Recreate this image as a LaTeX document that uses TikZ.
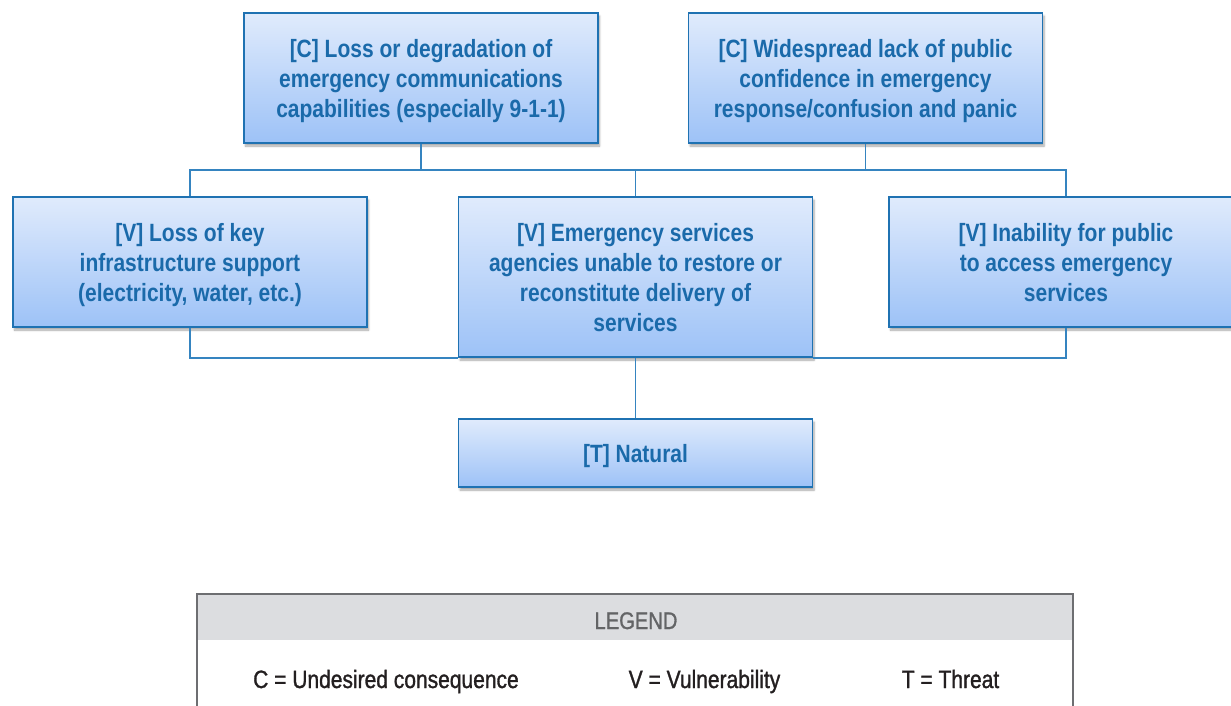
\documentclass[tikz,border=0pt]{standalone}
\usepackage{fontspec}
\setmainfont[FakeStretch=0.84]{Liberation Sans}
\newfontfamily\legfont[FakeStretch=0.84,RawFeature={embolden=1.2}]{Liberation Sans}
\usetikzlibrary{shadows.blur}
\definecolor{boxborder}{HTML}{1F72B2}
\definecolor{boxtop}{HTML}{E0EBFC}
\definecolor{boxbot}{HTML}{9DC2F7}
\definecolor{boxtext}{HTML}{1A6AAA}
\definecolor{wire}{HTML}{3584C0}
\definecolor{legborder}{HTML}{6D6E71}
\definecolor{legband}{HTML}{DCDDE0}
\definecolor{legtitle}{HTML}{636466}
\definecolor{legtext}{HTML}{231F20}
\tikzset{
  factor/.style={draw=boxborder, line width=1.6pt, top color=boxtop, bottom color=boxbot,
    text=boxtext, align=center, inner sep=0pt, minimum width=354pt, text depth=0pt,
    font=\bfseries\fontsize{25}{30}\selectfont,
    blur shadow={shadow xshift=1.5pt, shadow yshift=-3pt, shadow blur steps=6, shadow opacity=35}},
  wireline/.style={draw=wire, line width=1.4pt},
  legitem/.style={anchor=base, text=legtext, inner sep=0pt, font=\legfont\fontsize{25}{30}\selectfont},
  legtitlestyle/.style={anchor=base, text=legtitle, inner sep=0pt, font=\legfont\fontsize{24}{28}\selectfont}
}
\begin{document}
\begin{tikzpicture}[x=1pt,y=-1pt]
\useasboundingbox (0,0) rectangle (1231,706);
% boxes
\node[factor, minimum height=130pt] (c1) at (421,78) {[C] Loss or degradation of\\emergency communications\\capabilities (especially 9-1-1)};
\node[factor, minimum height=130pt] (c2) at (865.5,78) {[C] Widespread lack of public\\confidence in emergency\\response/confusion and panic};
\node[factor, minimum height=130pt] (v1) at (190,262) {[V] Loss of key\\infrastructure support\\(electricity, water, etc.)};
\node[factor, minimum height=160pt] (v2) at (635.5,277) {[V] Emergency services\\agencies unable to restore or\\reconstitute delivery of\\services};
\node[factor, minimum height=130pt] (v3) at (1066,262) {[V] Inability for public\\to access emergency\\services};
\node[factor, minimum height=68pt] (t) at (635.5,453) {[T] Natural};
% connectors
\coordinate (busU) at (636,170);
\draw[wireline] (v1.north) -- (v1.north |- busU) -- (v3.north |- busU) -- (v3.north);
\draw[wireline] (c1.south) -- (c1.south |- busU);
\draw[wireline] (c2.south) -- (c2.south |- busU);
\draw[wireline] (v2.north) -- (v2.north |- busU);
\draw[wireline] (v1.south) |- (v2.south west);
\draw[wireline] (v3.south) |- (v2.south east);
\draw[wireline] (v2.south) -- (t.north);
% legend
\fill[legband] (197,594) rectangle (1073,640);
\draw[legborder, line width=1.8pt] (197,720) -- (197,594) -- (1073,594) -- (1073,720);
\node[legtitlestyle] (legtitle) at (636,629) {LEGEND};
\node[legitem] (legc) at (386,688) {C = Undesired consequence};
\node[legitem] (legv) at (704.5,688) {V = Vulnerability};
\node[legitem] (legt) at (950.5,688) {T = Threat};
\end{tikzpicture}
\end{document}
